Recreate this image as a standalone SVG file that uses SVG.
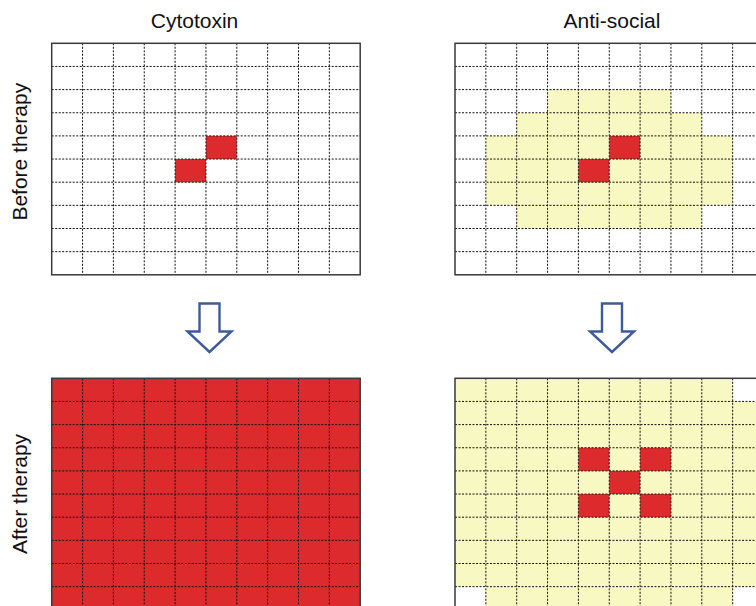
<svg xmlns="http://www.w3.org/2000/svg" xmlns:xlink="http://www.w3.org/1999/xlink" width="756" height="606" viewBox="0 0 756 606">
<style>
.lbl{font-family:"Liberation Sans",Arial,sans-serif;font-size:21px;fill:#111;text-anchor:middle}
.dot{fill:none;stroke:#111;stroke-width:1;stroke-dasharray:2 1.5}
.bd{fill:none;stroke:#3a3a3a;stroke-width:1.5}
.red{fill:#dc2a2d}
.yel{fill:#f8f8c2}
.arr{fill:#fff;stroke:#3e5b99;stroke-width:2.4;stroke-linejoin:miter}
</style>
<defs>
<g id="grid">
<path class="dot" d="M30.85 0V231.5M61.7 0V231.5M92.55 0V231.5M123.4 0V231.5M154.25 0V231.5M185.1 0V231.5M215.95 0V231.5M246.8 0V231.5M277.65 0V231.5M0 23.15H308.5M0 46.3H308.5M0 69.45H308.5M0 92.6H308.5M0 115.75H308.5M0 138.9H308.5M0 162.05H308.5M0 185.2H308.5M0 208.35H308.5"/>
<rect class="bd" x="0" y="0" width="308.5" height="231.5"/>
</g>
</defs>
<rect width="756" height="606" fill="#fff"/>
<text class="lbl" x="194.5" y="28">Cytotoxin</text>
<text class="lbl" x="612" y="28">Anti-social</text>
<text class="lbl" transform="translate(27,151.7) rotate(-90)">Before therapy</text>
<text class="lbl" transform="translate(27,494) rotate(-90)">After therapy</text>
<g id="cytotoxin-before" transform="translate(51.7,43.3)">
<rect class="red" x="154.25" y="92.6" width="30.85" height="23.15"/>
<rect class="red" x="123.4" y="115.75" width="30.85" height="23.15"/>
<use xlink:href="#grid"/>
</g>
<g id="antisocial-before" transform="translate(455,43.3)">
<rect class="yel" x="92.55" y="46.3" width="123.4" height="23.15"/>
<rect class="yel" x="61.7" y="69.45" width="185.1" height="23.15"/>
<rect class="yel" x="30.85" y="92.6" width="246.8" height="69.45"/>
<rect class="yel" x="61.7" y="162.05" width="185.1" height="23.15"/>
<rect class="red" x="154.25" y="92.6" width="30.85" height="23.15"/>
<rect class="red" x="123.4" y="115.75" width="30.85" height="23.15"/>
<use xlink:href="#grid"/>
</g>
<g id="cytotoxin-after" transform="translate(51.7,378.3)">
<rect class="red" x="0" y="0" width="308.5" height="231.5"/>
<use xlink:href="#grid"/>
</g>
<g id="antisocial-after" transform="translate(455,378.3)">
<rect class="yel" x="0" y="0" width="277.65" height="23.15"/>
<rect class="yel" x="0" y="23.15" width="308.5" height="185.2"/>
<rect class="yel" x="30.85" y="208.35" width="246.8" height="23.15"/>
<rect class="red" x="123.4" y="69.45" width="30.85" height="23.15"/>
<rect class="red" x="185.1" y="69.45" width="30.85" height="23.15"/>
<rect class="red" x="154.25" y="92.6" width="30.85" height="23.15"/>
<rect class="red" x="123.4" y="115.75" width="30.85" height="23.15"/>
<rect class="red" x="185.1" y="115.75" width="30.85" height="23.15"/>
<use xlink:href="#grid"/>
</g>
<g id="connectors">
<polygon class="arr" points="199.5,303.5 219.5,303.5 219.5,331.5 231.5,331.5 209.5,352 187.5,331.5 199.5,331.5"/>
<polygon class="arr" points="602,303.5 622,303.5 622,331.5 634,331.5 612,352 590,331.5 602,331.5"/>
</g>
</svg>
